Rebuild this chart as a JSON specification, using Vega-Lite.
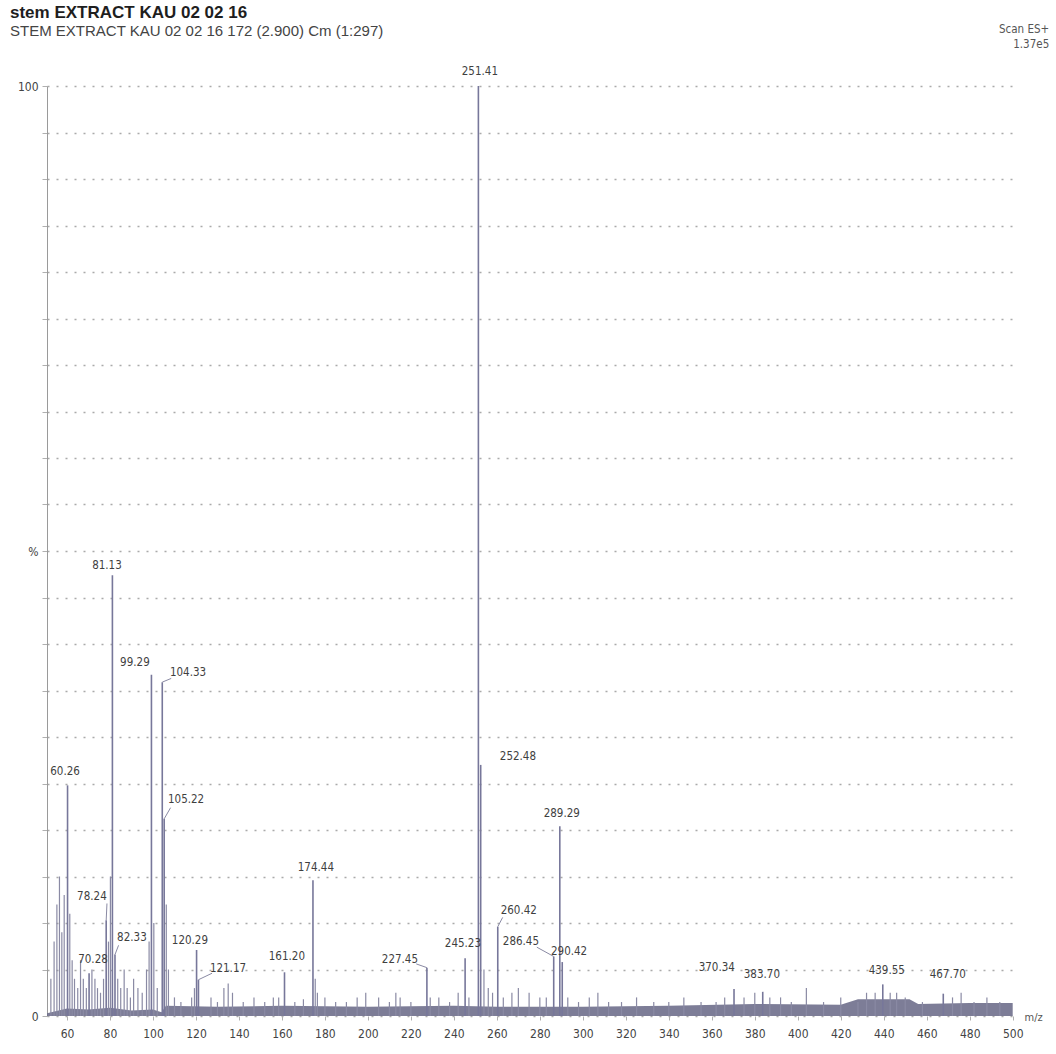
{
  "$schema": "https://vega.github.io/schema/vega-lite/v6.json",
  "width": 970,
  "height": 930,
  "autosize": {"type": "none"},
  "padding": {"left": 47, "top": 86, "right": 39, "bottom": 38},
  "background": "white",
  "config": {
    "view": {"stroke": null},
    "font": "Liberation Sans Narrow, DejaVu Sans Condensed, Liberation Sans, sans-serif",
    "axisX": {
      "values": [60, 80, 100, 120, 140, 160, 180, 200, 220, 240, 260, 280, 300, 320, 340, 360, 380, 400, 420, 440, 460, 480, 500],
      "titleFont": "Liberation Sans Narrow, DejaVu Sans Condensed, Liberation Sans, sans-serif",
      "titleFontWeight": "normal",
      "titleFontSize": 11,
      "titleColor": "#555555",
      "titleAnchor": "start",
      "titleAlign": "left",
      "titleBaseline": "middle",
      "titleX": 977,
      "titleY": 1,
      "domain": false,
      "grid": false,
      "ticks": true,
      "tickSize": 4,
      "tickColor": "#b0b0b0",
      "labelPadding": 8,
      "labelFontSize": 12,
      "labelColor": "#444444",
      "labelFont": "Liberation Sans Narrow, DejaVu Sans Condensed, Liberation Sans, sans-serif"
    },
    "axisY": {
      "values": [0, 10, 20, 30, 40, 50, 60, 70, 80, 90, 100],
      "labelExpr": "datum.value == 50 ? '%' : (datum.value == 0 || datum.value == 100 ? datum.label : '')",
      "domain": true,
      "domainColor": "#9a9a9a",
      "tickSize": 5,
      "tickColor": "#b0b0b0",
      "labelPadding": 4,
      "labelFontSize": 12,
      "labelColor": "#444444",
      "labelFont": "Liberation Sans Narrow, DejaVu Sans Condensed, Liberation Sans, sans-serif",
      "grid": true,
      "gridColor": "#8e8e8e",
      "gridDash": [2, 7],
      "gridWidth": 1.3,
      "gridOpacity": 0.75
    }
  },
  "title": {
    "text": "stem EXTRACT KAU 02 02 16",
    "subtitle": "STEM EXTRACT KAU 02 02 16 172 (2.900) Cm (1:297)",
    "anchor": "start",
    "frame": "group",
    "dx": -37,
    "offset": -16,
    "font": "Liberation Sans",
    "fontSize": 17,
    "fontWeight": "bold",
    "color": "#1e1e1e",
    "subtitleFont": "Liberation Sans",
    "subtitleFontSize": 15,
    "subtitleColor": "#444444",
    "subtitlePadding": 2
  },
  "datasets": {
    "baseline": [
      {"mz": 50.7, "b": 0.3}, {"mz": 60, "b": 0.8}, {"mz": 70, "b": 0.7}, {"mz": 80, "b": 0.9},
      {"mz": 90, "b": 0.6}, {"mz": 100, "b": 0.7}, {"mz": 104, "b": 0.4}, {"mz": 106, "b": 1.1},
      {"mz": 130, "b": 1.0}, {"mz": 160, "b": 1.1}, {"mz": 200, "b": 1.0}, {"mz": 240, "b": 1.1},
      {"mz": 260, "b": 1.0}, {"mz": 300, "b": 1.0}, {"mz": 340, "b": 1.1}, {"mz": 380, "b": 1.3},
      {"mz": 420, "b": 1.2}, {"mz": 428, "b": 1.8}, {"mz": 452, "b": 1.8}, {"mz": 456, "b": 1.3},
      {"mz": 480, "b": 1.4}, {"mz": 500, "b": 1.4}
    ],
    "noise": [
      {"mz": 52.5, "h": 4}, {"mz": 54.0, "h": 8}, {"mz": 55.3, "h": 12}, {"mz": 56.5, "h": 15},
      {"mz": 57.6, "h": 9}, {"mz": 58.7, "h": 13}, {"mz": 61.3, "h": 11}, {"mz": 62.4, "h": 6},
      {"mz": 63.5, "h": 4}, {"mz": 65.0, "h": 3}, {"mz": 66.3, "h": 6}, {"mz": 67.6, "h": 4},
      {"mz": 69.0, "h": 3}, {"mz": 71.6, "h": 5}, {"mz": 73.0, "h": 4}, {"mz": 74.2, "h": 3},
      {"mz": 75.6, "h": 2.5}, {"mz": 77.0, "h": 4}, {"mz": 79.3, "h": 8}, {"mz": 80.2, "h": 15},
      {"mz": 83.6, "h": 4}, {"mz": 85.0, "h": 3}, {"mz": 86.6, "h": 5}, {"mz": 88.0, "h": 3},
      {"mz": 89.5, "h": 2}, {"mz": 91.0, "h": 4}, {"mz": 93.0, "h": 3}, {"mz": 95.0, "h": 2.5},
      {"mz": 97.0, "h": 5}, {"mz": 98.2, "h": 8}, {"mz": 100.4, "h": 10}, {"mz": 102.0, "h": 3},
      {"mz": 106.2, "h": 12}, {"mz": 107.2, "h": 5}, {"mz": 110, "h": 2}, {"mz": 113, "h": 1.5},
      {"mz": 118, "h": 2}, {"mz": 119.3, "h": 3}, {"mz": 127, "h": 2}, {"mz": 130, "h": 1.5},
      {"mz": 133, "h": 3}, {"mz": 135, "h": 3.5}, {"mz": 137, "h": 2.5}, {"mz": 142, "h": 1.5},
      {"mz": 147, "h": 2}, {"mz": 152, "h": 1.5}, {"mz": 156, "h": 2}, {"mz": 158.5, "h": 2},
      {"mz": 166, "h": 1.5}, {"mz": 170, "h": 1.8}, {"mz": 175.5, "h": 4}, {"mz": 176.5, "h": 2.5},
      {"mz": 180, "h": 2}, {"mz": 185, "h": 1.5}, {"mz": 190, "h": 1.5}, {"mz": 195, "h": 2},
      {"mz": 199, "h": 2.5}, {"mz": 205, "h": 2}, {"mz": 210, "h": 1.5}, {"mz": 213, "h": 2.5},
      {"mz": 215, "h": 2}, {"mz": 220, "h": 1.5}, {"mz": 229, "h": 2}, {"mz": 233, "h": 2},
      {"mz": 238, "h": 1.5}, {"mz": 242, "h": 2.5}, {"mz": 247, "h": 2}, {"mz": 254, "h": 5},
      {"mz": 256, "h": 3}, {"mz": 258, "h": 2.5}, {"mz": 263, "h": 2}, {"mz": 267, "h": 2.5},
      {"mz": 270, "h": 3}, {"mz": 275, "h": 2.5}, {"mz": 280, "h": 2}, {"mz": 283, "h": 2},
      {"mz": 293, "h": 2}, {"mz": 298, "h": 1.5}, {"mz": 303, "h": 2}, {"mz": 307, "h": 2.5},
      {"mz": 312, "h": 1.5}, {"mz": 318, "h": 1.5}, {"mz": 325, "h": 2}, {"mz": 333, "h": 1.5},
      {"mz": 340, "h": 1.5}, {"mz": 347, "h": 2}, {"mz": 355, "h": 1.5}, {"mz": 362, "h": 1.5},
      {"mz": 366, "h": 2}, {"mz": 375, "h": 2}, {"mz": 380, "h": 2.5}, {"mz": 387, "h": 2},
      {"mz": 392, "h": 2}, {"mz": 397, "h": 1.5}, {"mz": 404, "h": 3}, {"mz": 412, "h": 1.5},
      {"mz": 420, "h": 2}, {"mz": 428, "h": 1.5}, {"mz": 432, "h": 2.5}, {"mz": 436, "h": 2.5},
      {"mz": 443, "h": 2.5}, {"mz": 446, "h": 2.5}, {"mz": 450, "h": 2}, {"mz": 458, "h": 1.5},
      {"mz": 472, "h": 2}, {"mz": 476, "h": 2.5}, {"mz": 482, "h": 1.5}, {"mz": 488, "h": 2},
      {"mz": 494, "h": 1.5}
    ],
    "peaks": [
      {"mz": 60.26, "h": 24.8, "t": "60.26", "lx": 59.1, "ly": 26.2},
      {"mz": 70.28, "h": 4.6, "t": "70.28", "lx": 72.1, "ly": 6.0},
      {"mz": 78.24, "h": 10.3, "t": "78.24", "lx": 71.6, "ly": 12.8, "cx": 78.6, "cy": 12.1},
      {"mz": 81.13, "h": 47.4, "t": "81.13", "lx": 78.6, "ly": 48.4},
      {"mz": 82.33, "h": 6.6, "t": "82.33", "lx": 90.2, "ly": 8.4, "cx": 84.0, "cy": 7.6},
      {"mz": 99.29, "h": 36.7, "t": "99.29", "lx": 91.6, "ly": 38.0},
      {"mz": 104.33, "h": 35.9, "t": "104.33", "lx": 116.3, "ly": 36.9, "cx": 108.5, "cy": 36.3},
      {"mz": 105.22, "h": 21.2, "t": "105.22", "lx": 115.4, "ly": 23.2, "cx": 108.2, "cy": 22.4},
      {"mz": 120.29, "h": 7.1, "t": "120.29", "lx": 117.2, "ly": 8.1},
      {"mz": 121.17, "h": 3.9, "t": "121.17", "lx": 134.9, "ly": 5.1, "cx": 127.5, "cy": 4.6},
      {"mz": 161.20, "h": 4.7, "t": "161.20", "lx": 162.3, "ly": 6.3},
      {"mz": 174.44, "h": 14.6, "t": "174.44", "lx": 175.8, "ly": 15.9},
      {"mz": 227.45, "h": 5.2, "t": "227.45", "lx": 214.9, "ly": 6.0, "cx": 222.5, "cy": 5.6},
      {"mz": 245.23, "h": 6.2, "t": "245.23", "lx": 244.2, "ly": 7.7},
      {"mz": 251.41, "h": 100, "t": "251.41", "lx": 252.1, "ly": 101.5},
      {"mz": 252.48, "h": 27.0, "t": "252.48", "lx": 269.8, "ly": 27.8},
      {"mz": 260.42, "h": 9.6, "t": "260.42", "lx": 270.2, "ly": 11.3, "cx": 262.7, "cy": 10.6},
      {"mz": 286.45, "h": 6.4, "t": "286.45", "lx": 271.2, "ly": 8.0, "cx": 278.6, "cy": 7.4},
      {"mz": 289.29, "h": 20.4, "t": "289.29", "lx": 290.2, "ly": 21.7},
      {"mz": 290.42, "h": 5.8, "t": "290.42", "lx": 293.6, "ly": 6.9},
      {"mz": 370.34, "h": 2.9, "t": "370.34", "lx": 362.3, "ly": 5.2},
      {"mz": 383.70, "h": 2.6, "t": "383.70", "lx": 383.3, "ly": 4.4},
      {"mz": 439.55, "h": 3.4, "t": "439.55", "lx": 441.4, "ly": 4.8},
      {"mz": 467.70, "h": 2.4, "t": "467.70", "lx": 469.8, "ly": 4.4}
    ],
    "header": [
      {"t": "Scan ES+", "x": 517, "y": 106.0},
      {"t": "1.37e5", "x": 517, "y": 104.4}
    ]
  },
  "layer": [
    {
      "data": {"name": "baseline"},
      "mark": {"type": "area", "color": "#6f6f8c", "opacity": 0.9},
      "encoding": {
        "x": {"field": "mz", "type": "quantitative", "title": "m/z", "scale": {"domain": [50.7, 502], "nice": false, "zero": false}},
        "y": {"field": "b", "type": "quantitative", "title": null, "scale": {"domain": [0, 100], "nice": false}}
      }
    },
    {
      "data": {"name": "noise"},
      "mark": {"type": "rule", "color": "#8a8aa4", "strokeWidth": 1.2},
      "encoding": {
        "x": {"field": "mz", "type": "quantitative", "title": "m/z"},
        "y": {"field": "h", "type": "quantitative", "title": null},
        "y2": {"datum": 0}
      }
    },
    {
      "data": {"name": "peaks"},
      "mark": {"type": "rule", "color": "#77779a", "strokeWidth": 1.6},
      "encoding": {
        "x": {"field": "mz", "type": "quantitative", "title": "m/z"},
        "y": {"field": "h", "type": "quantitative", "title": null},
        "y2": {"datum": 0}
      }
    },
    {
      "data": {"name": "peaks"},
      "transform": [{"filter": "isValid(datum.cx)"}],
      "mark": {"type": "rule", "color": "#8a8aa4", "strokeWidth": 1},
      "encoding": {
        "x": {"field": "mz", "type": "quantitative", "title": "m/z"},
        "y": {"field": "h", "type": "quantitative", "title": null},
        "x2": {"field": "cx"},
        "y2": {"field": "cy"}
      }
    },
    {
      "data": {"name": "peaks"},
      "mark": {"type": "text", "fontSize": 11.5, "color": "#3f3f3f", "baseline": "middle", "align": "center"},
      "encoding": {
        "x": {"field": "lx", "type": "quantitative", "title": "m/z"},
        "y": {"field": "ly", "type": "quantitative", "title": null},
        "text": {"field": "t"}
      }
    },
    {
      "data": {"name": "header"},
      "mark": {"type": "text", "fontSize": 11.5, "color": "#555555", "baseline": "middle", "align": "right"},
      "encoding": {
        "x": {"field": "x", "type": "quantitative", "title": "m/z"},
        "y": {"field": "y", "type": "quantitative", "title": null},
        "text": {"field": "t"}
      }
    }
  ]
}
